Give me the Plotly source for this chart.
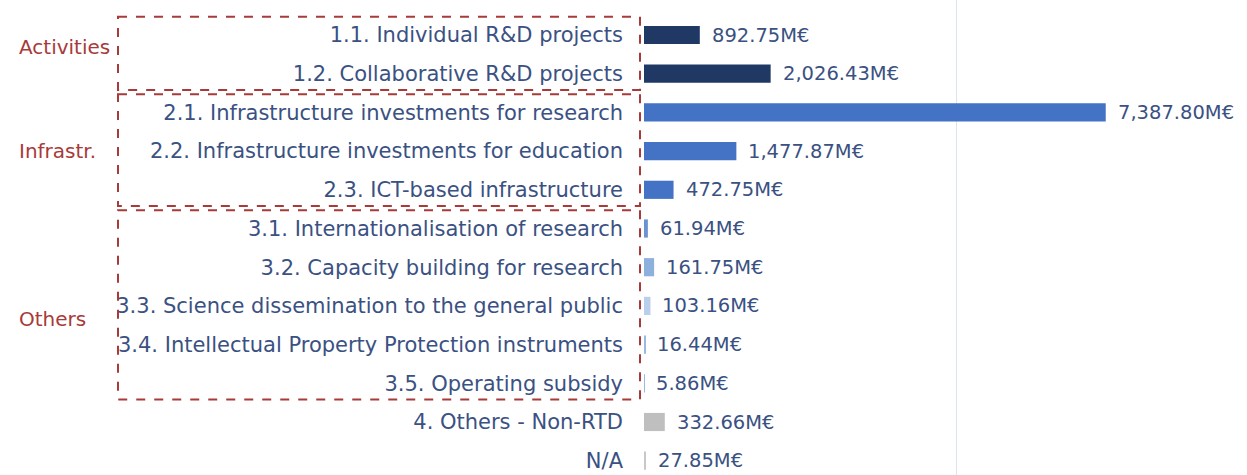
import plotly.graph_objects as go

categories = [
    "1.1. Individual R&D projects",
    "1.2. Collaborative R&D projects",
    "2.1. Infrastructure investments for research",
    "2.2. Infrastructure investments for education",
    "2.3. ICT-based infrastructure",
    "3.1. Internationalisation of research",
    "3.2. Capacity building for research",
    "3.3. Science dissemination to the general public",
    "3.4. Intellectual Property Protection instruments",
    "3.5. Operating subsidy",
    "4. Others - Non-RTD",
    "N/A",
]
values = [892.75, 2026.43, 7387.80, 1477.87, 472.75, 61.94, 161.75, 103.16, 16.44, 5.86, 332.66, 27.85]
bar_colors = [
    "#1F3864", "#1F3864",
    "#4472C4", "#4472C4", "#4472C4",
    "#6A93CF", "#8EB0DD", "#BACFEB", "#9DB8E0", "#9DB8E0",
    "#BFBFBF", "#C8C8C8",
]
groups = [("Activities", 0, 1), ("Infrastr.", 2, 4), ("Others", 5, 9)]
group_label_rows = [0.3, 3.0, 7.35]

TEXT = "#3A5182"
RED = "#A83A3A"
FONT = "DejaVu Sans"

W, H = 1247, 475
left = 644
row_px = 38.7
first_px = 35
y_top = -first_px / row_px
y_bot = (H - first_px) / row_px
x_max = (W - left) / 0.0625


def px_to_paper(px):
    return (px - left) / (W - left)


fig = go.Figure(go.Bar(
    y=categories, x=values, orientation="h",
    marker=dict(color=bar_colors, line=dict(width=0)),
    width=0.47, hoverinfo="skip",
))

for c, v in zip(categories, values):
    fig.add_annotation(x=v, y=c, text=f"{v:,.2f}M€", showarrow=False,
                       xanchor="left", xshift=10,
                       font=dict(family=FONT, size=19.5, color=TEXT))

for (name, a, b), yl in zip(groups, group_label_rows):
    fig.add_shape(type="rect", xref="paper", yref="y",
                  x0=px_to_paper(118), x1=px_to_paper(640),
                  y0=a - 0.47, y1=b + 0.42,
                  line=dict(color=RED, width=2, dash="dash"))
    fig.add_annotation(xref="paper", yref="y", x=px_to_paper(17), y=yl,
                       text=name, showarrow=False, xanchor="left",
                       font=dict(family=FONT, size=20, color=RED))

fig.update_layout(
    width=W, height=H,
    margin=dict(l=left, r=0, t=0, b=0),
    paper_bgcolor="white", plot_bgcolor="white",
    showlegend=False,
    xaxis=dict(range=[0, x_max], tickvals=[0, 5000], showticklabels=False,
               showgrid=True, gridcolor="#DDE4EE", gridwidth=1, zeroline=False,
               showline=False),
    yaxis=dict(range=[y_bot, y_top], type="category", categoryorder="array",
               categoryarray=categories, showgrid=False, zeroline=False,
               ticks="", ticklabelstandoff=20,
               tickfont=dict(family=FONT, size=21, color=TEXT)),
)

fig.write_html("out.html")
